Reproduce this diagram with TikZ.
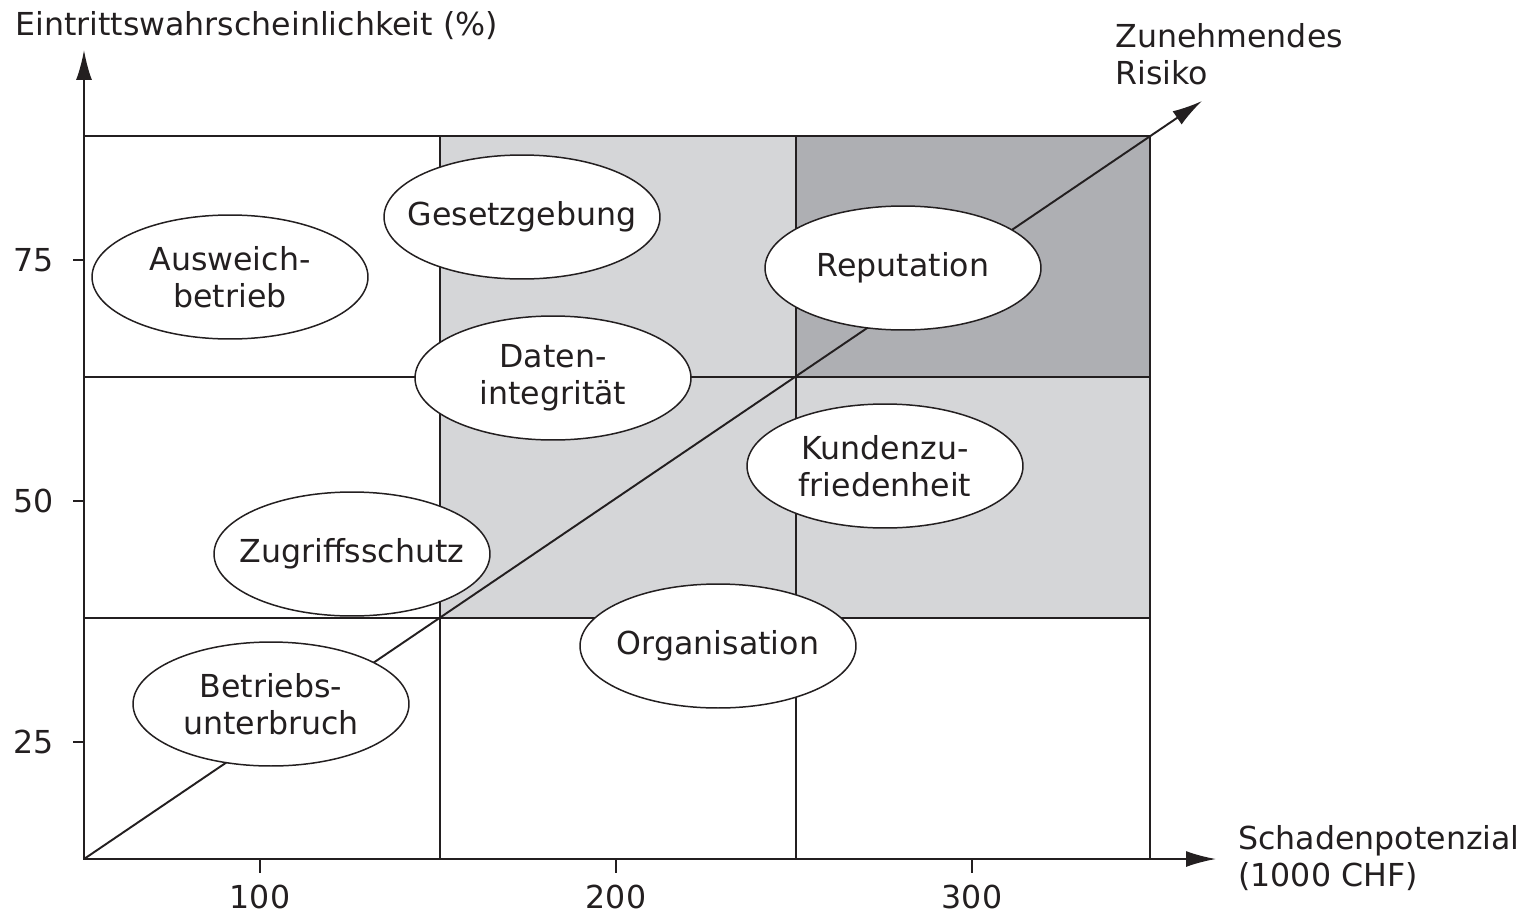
\documentclass[tikz,border=0pt]{standalone}
\usepackage{fontspec}
\setmainfont{DejaVu Sans}
\usetikzlibrary{arrows.meta,shapes.geometric}
\definecolor{lightcell}{RGB}{213,214,216}
\definecolor{darkcell}{RGB}{174,175,179}
\definecolor{ink}{RGB}{35,31,32}
\tikzset{
	bubble/.style={ellipse, draw=ink, line width=0.85pt, fill=white, minimum width=5.52cm, minimum height=2.48cm, inner xsep=-0.5cm, inner ysep=0pt, align=center},
	axisarrow/.style={-{Latex[length=0.6cm,width=0.32cm]}, line width=1.1pt, draw=ink},
	gridline/.style={line width=1.1pt, draw=ink}
}

\begin{document}
\begin{tikzpicture}[x=0.02cm, y=-0.02cm, font=\fontsize{18}{21}\selectfont, text=ink]
			%%%%% START %%%%%
			\useasboundingbox (0,0) rectangle (1534,916);
			
			% shaded cells
			\fill[lightcell] (440,136) rectangle (796,618);
			\fill[lightcell] (796,377) rectangle (1150,618);
			\fill[darkcell] (796,136) rectangle (1150,377);
			
			% grid
			\draw[gridline] (84,136) rectangle (1150,859);
			\draw[gridline] (440,136) -- (440,859);
			\draw[gridline] (796,136) -- (796,859);
			\draw[gridline] (84,377) -- (1150,377);
			\draw[gridline] (84,618) -- (1150,618);
			
			% axes
			\coordinate (O) at (84,859);
			\coordinate (ytip) at (84,50);
			\coordinate (xtip) at (1216,859);
			\coordinate (rtip) at (1202,101);
			\draw[axisarrow] (O) -- (ytip);
			\draw[axisarrow] (O) -- (xtip);
			\draw[axisarrow] (O) -- (rtip);
			
			\foreach \x/\lab in {260/100, 616/200, 972/300} {
				\draw[gridline] (\x,859) -- (\x,873);
				\node[anchor=north, inner sep=0pt] (xlab\lab) at (\x,885) {\lab};
			}
			\foreach \y/\lab in {260/75, 501/50, 742/25} {
				\draw[gridline] (73,\y) -- (84,\y);
				\node[anchor=east, inner sep=0pt] (ylab\lab) at (54,\y) {\lab};
			}
			
			\node[anchor=base west, inner sep=0pt] (ytitle) at (15,35) {Eintrittswahrscheinlichkeit (\%)};
			\node[anchor=west, inner sep=0pt, align=left] (xtitle) at (1238,858) {Schadenpotenzial\\(1000 CHF)};
			\node[anchor=west, inner sep=0pt, align=left] (risk) at (1115,54) {Zunehmendes\\Risiko};
			
			% risks
			\node[bubble] (ausweich) at (230,277) {Ausweich-\\betrieb};
			\node[bubble] (gesetz) at (522,217) {Gesetzgebung};
			\node[bubble] (reputation) at (903,268) {Reputation};
			\node[bubble] (daten) at (553,378) {Daten-\\integrität};
			\node[bubble] (kunden) at (885,466) {Kundenzu-\\friedenheit};
			\node[bubble] (zugriff) at (352,554) {Zugriffsschutz};
			\node[bubble] (organisation) at (718,646) {Organisation};
			\node[bubble] (betrieb) at (271,704) {Betriebs-\\unterbruch};
			%%%%% END %%%%%
		\end{tikzpicture}
\end{document}
